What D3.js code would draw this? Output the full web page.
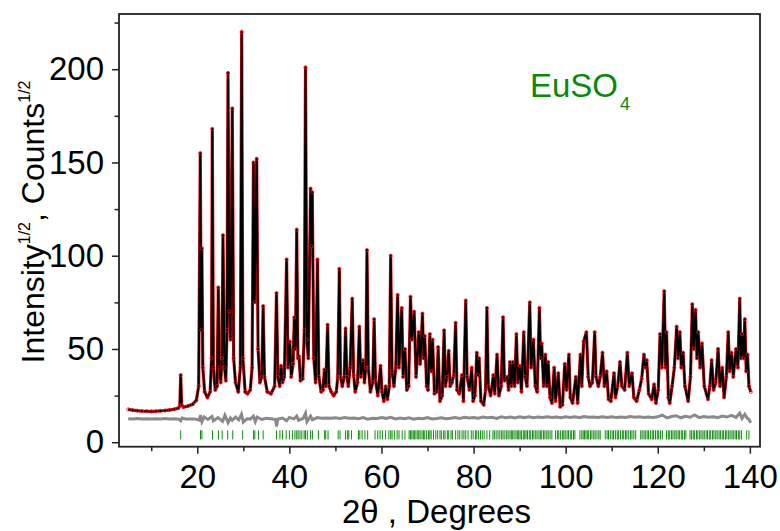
<!DOCTYPE html>
<html>
<head>
<meta charset="utf-8">
<script src="https://cdn.jsdelivr.net/npm/d3@7"></script>
<style>
  body { margin: 0; background: #fff; }
  svg text { font-family: "Liberation Sans", Arial, sans-serif; }
</style>
</head>
<body>
<svg id="chart"></svg>
<script>
// profile vertices: [2theta, sqrt(counts)]
const profile = [
  [5,17.6],[6,17.2],[7,16.9],[8,16.7],[9,16.6],[10,16.5],[11,16.6],[12,16.8],[13,17],[14,17.3],[15,17.7],
  [15.9,18.3],[16.2,19.5],[16.4,36],[16.6,20],[17,18.8],[18,19.4],[19,20.4],[19.8,22.5],[20.3,30],
  [20.65,155],[20.85,60],[21.0,104],[21.2,40],[21.6,27],[22.2,24],[22.8,27],[23.1,45],[23.26,168],
  [23.5,40],[23.9,28],[24.3,30],[24.56,83],[24.8,40],[25.1,32],[25.35,45],[25.58,111],[25.9,40],
  [26.2,33],[26.45,60],[26.67,198],[26.95,70],[27.2,55],[27.6,179],[27.9,45],[28.3,32],[28.9,27],
  [29.35,40],[29.64,220],[29.9,45],[30.4,27],[30.9,26],[31.5,28],[31.9,40],[32.2,150],[32.45,75],
  [32.9,152],[33.2,50],[33.6,32],[34.0,35],[34.3,73],[34.6,35],[35.2,27],[36,26],[36.8,30],
  [37.2,80],[37.5,35],[37.9,30],[38.2,41],[38.5,32],[38.9,35],[39.4,98],[39.7,40],[40.1,54],
  [40.4,35],[40.8,42],[41.06,67],[41.3,50],[41.6,114],[41.85,45],[42.1,46],[42.4,33],[42.9,34],
  [43.25,60],[43.5,201],[43.8,55],[44.1,45],[44.6,136],[44.8,105],[44.97,134],[45.3,45],[45.7,32],
  [46.1,98],[46.4,35],[46.9,27],[47.3,28],[47.6,39],[47.9,30],[48.3,63],[48.6,30],[49.1,27],
  [49.6,25],[50.2,27],[50.5,35],[50.85,93],[51.1,35],[51.5,30],[51.9,35],[52.2,61],[52.5,35],
  [52.8,30],[53.2,40],[53.65,77],[53.95,36],[54.3,27],[54.8,32],[55.2,62],[55.5,35],[56.0,44],
  [56.3,32],[56.6,40],[56.85,103],[57.15,40],[57.6,27],[58.1,32],[58.4,66],[58.7,33],[59.2,25],
  [59.8,41],[60.1,27],[60.5,22],[60.9,30],[61.3,23],[61.7,30],[62.0,100],[62.3,38],[62.7,30],
  [63.1,40],[63.5,79],[63.8,40],[64.4,72],[64.7,35],[65.1,50],[65.5,28],[65.9,30],[66.3,78],
  [66.6,55],[67.1,70],[67.5,35],[68.1,59],[68.4,42],[68.9,69],[69.15,45],[69.4,57],[69.8,30],
  [70.1,28],[70.5,58],[70.8,38],[71.1,55],[71.5,26],[72.0,27],[72.3,51],[72.7,22],[73.2,25],
  [73.6,60],[73.9,30],[74.2,35],[74.6,49],[74.9,30],[75.3,32],[75.7,36],[76.1,64],[76.4,28],
  [76.9,26],[77.5,36],[77.8,22],[78.3,76],[78.6,35],[79.1,28],[79.6,40],[79.9,22],[80.3,25],
  [80.7,48],[80.95,36],[81.2,45],[81.6,22],[82.2,20],[82.6,28],[82.9,72],[83.2,30],[83.7,25],
  [84.3,36],[84.6,26],[85.1,47],[85.5,25],[86.0,30],[86.4,67],[86.7,33],[87.3,35],[87.6,28],
  [87.9,43],[88.2,30],[88.5,43],[88.9,30],[89.3,58],[89.6,32],[90.0,41],[90.4,27],[90.9,59],
  [91.2,35],[91.6,30],[92.2,75],[92.5,40],[93.0,55],[93.4,30],[93.8,27],[94.3,72],[94.55,45],
  [94.8,53],[95.2,30],[95.6,47],[95.9,30],[96.2,43],[96.6,24],[97.0,21],[97.5,40],[97.8,22],
  [98.4,37],[98.8,19],[99.3,20],[99.8,42],[100.2,28],[100.7,47],[101.0,24],[101.5,21],[102.2,35],
  [102.6,21],[103.2,47],[103.5,30],[103.9,54],[104.5,59],[104.9,35],[105.3,30],[105.8,32],
  [106.3,59],[106.6,35],[107.1,30],[107.5,35],[108.0,48],[108.4,30],[108.9,38],[109.3,23],
  [109.8,22],[110.5,37],[110.8,24],[111.3,30],[111.8,43],[112.2,30],[112.8,28],[113.4,48],
  [113.8,30],[114.4,37],[114.8,24],[115.4,22],[116.0,28],[116.5,34],[117.0,47],[117.3,40],
  [117.6,44],[118.0,26],[118.7,23],[119.2,31],[119.6,21],[120.1,28],[120.5,58],[120.9,40],
  [121.4,81],[121.7,40],[121.9,59],[122.3,24],[122.6,21],[123.1,30],[123.6,40],[124.1,62],
  [124.4,45],[124.8,59],[125.1,40],[125.5,48],[125.9,30],[126.6,22],[127.1,35],[127.5,74],
  [127.8,50],[128.2,71],[128.5,45],[128.8,59],[129.2,40],[129.6,53],[130.1,30],[130.9,23],
  [131.3,30],[131.7,44],[132.1,28],[132.6,32],[133.1,50],[133.5,30],[134.0,40],[134.4,24],
  [134.9,35],[135.3,59],[135.6,38],[136.0,48],[136.4,35],[137.0,50],[137.4,40],[137.8,77],
  [138.05,45],[138.3,58],[138.6,45],[138.9,66],[139.2,38],[139.5,47],[139.8,30],[140.2,27]
];

// observed - calculated, offset as plotted
const difference = [
  [5,12.6],[6,12.4],[7,12.7],[8,12.5],[9,12.6],[10,12.4],[11,12.6],[12,12.5],[13,12.7],[14,12.5],
  [15,12.6],[16,12.4],[16.4,11.5],[16.7,13],[17.5,12.5],[18.5,12.4],[19.5,12.5],[20.4,11.8],
  [20.7,14.5],[21,11],[21.5,13.5],[22.3,12.2],[23.2,13.8],[23.5,11.5],[24.5,13.2],[25.5,11.2],
  [26,14.5],[26.7,10.5],[27.2,13],[27.6,11.8],[28.3,13.5],[29,12],[29.6,15],[30,10.8],[30.8,12.6],
  [31.5,12.4],[32.2,14],[32.6,11],[33,13.5],[34,12.2],[35,12.8],[36,12.6],[37,12.2],[37.2,8.5],
  [37.5,12.5],[38.5,13],[39.4,11.5],[40,13.3],[41,12.5],[41.6,14],[42,11.8],[43,12.8],[43.5,15.5],
  [43.8,11],[44.6,14],[45,12],[46,13.2],[47,12.8],[48,13],[49,12.9],[50,13.1],[51,12.7],[52,13.2],
  [53,12.8],[54,13],[55,12.6],[56,13.2],[57,12.4],[58,12.9],[59,12.7],[60,13.2],[61,12.8],[62,13.4],
  [63,12.5],[64,13],[65,12.6],[66,13.1],[67,12.4],[68,12.9],[69,12.6],[70,13.2],[71,12.5],[72,12.7],
  [73,13.1],[74,12.6],[75,12.9],[76,13.3],[77,12.8],[78,13.4],[79,13],[80,13.3],[81,12.9],[82,13.5],
  [83,13.1],[84,13.4],[85,12.8],[86,13.6],[87,13.1],[88,13.5],[89,13],[90,13.6],[91,13.2],[92,13.7],
  [93,13.1],[94,13.5],[95,13.2],[96,13.6],[97,13.3],[98,13.5],[99,13.1],[100,13.6],[101,13.3],
  [102,13.7],[103,13.2],[104,13.8],[105,13.4],[106,13.5],[107,13.2],[108,13.6],[109,13.3],[110,13.7],
  [111,13.2],[112,13.5],[113,13.3],[114,13.8],[115,13.4],[116,13.6],[117,13.2],[118,13.5],[119,13.3],
  [120,13.6],[121,14.5],[122,13],[123,13.8],[124,14.2],[125,13.1],[126,13.9],[127,13.4],[128,14.6],
  [129,13.2],[130,13.8],[131,13.4],[132,13.6],[133,13.2],[134,14],[135,13.5],[136,14.4],[137,13.3],
  [137.8,15.6],[138.3,12.8],[138.9,15],[139.4,13],[139.8,12.2],[140.2,10.5]
];

// Bragg reflection positions
const reflections = [
  16.4,20.7,21.0,23.3,24.6,25.4,26.6,27.7,29.85,32.2,32.5,33.3,34.3,37.2,37.95,38.5,39.3,40.0,40.7,
  41.2,41.6,41.9,42.3,42.7,43.2,43.5,43.9,44.6,45.0,46.3,47.65,47.9,48.4,50.6,51.0,52.2,52.65,52.9,
  53.5,55.0,55.3,55.8,56.4,57.0,58.6,59.2,59.7,60.2,60.9,61.6,62.0,62.3,62.8,63.4,63.8,64.5,65.1,
  66.0,66.3,66.6,66.9,67.2,67.5,67.9,68.1,68.4,68.8,69.1,69.4,69.8,70.2,70.5,70.8,71.3,71.8,72.2,
  72.7,73.0,73.5,73.8,74.3,74.6,75.1,75.4,76.1,76.6,77.0,77.5,77.9,78.3,78.8,79.5,79.9,80.4,80.7,
  81.1,81.5,81.9,82.3,82.9,83.5,84.2,84.5,84.9,85.3,85.7,86.1,86.4,86.8,87.2,87.5,87.9,88.2,88.5,
  88.8,89.2,89.5,89.8,90.1,90.4,90.8,91.1,91.4,91.7,92.1,92.4,92.8,93.1,93.5,93.8,94.2,94.5,94.8,
  95.2,95.5,95.9,96.2,96.6,97.0,97.8,98.2,98.5,98.9,99.3,99.6,99.9,100.3,100.6,101.0,101.3,101.7,
  102.0,103.1,103.5,103.8,104.1,104.4,104.7,105.0,105.4,105.7,106.1,106.4,106.8,107.2,107.5,108.6,
  109.0,109.3,109.7,110.1,110.4,110.8,111.2,111.5,111.9,112.3,112.6,113.0,113.3,113.7,114.1,114.4,
  114.8,115.2,116.3,116.6,117.0,117.3,117.7,118.0,118.4,118.8,119.1,119.5,119.9,120.2,120.6,121.0,
  121.9,122.3,122.6,123.0,123.3,123.7,124.0,124.4,124.7,125.1,125.4,125.8,126.1,127.0,127.3,127.7,
  128.0,128.4,128.7,129.1,129.4,129.8,130.1,130.5,130.8,131.2,131.5,131.9,132.2,132.6,132.9,133.3,
  133.6,134.0,134.3,134.7,135.0,135.4,135.7,136.1,136.4,136.8,137.1,137.5,137.8,138.2,139.3,139.8
];

const xTicks = [20, 40, 60, 80, 100, 120, 140];
const xMinorTicks = [10, 30, 50, 70, 90, 110, 130];
const yTicks = [0, 50, 100, 150, 200];
const yMinorTicks = [25, 75, 125, 175, 225];
const phaseName = 'EuSO';
const phaseIndex = '4';

const width = 780;
const height = 531;
const margin = { top: 14, right: 20, bottom: 84.3, left: 119 };
const chartWidth = width - margin.left - margin.right;
const chartHeight = height - margin.top - margin.bottom;

const svg = d3.select('#chart')
    .attr('width', width)
    .attr('height', height);

svg.append('rect')
    .attr('width', width)
    .attr('height', height)
    .attr('fill', '#fff');

const x = d3.scaleLinear().domain([3, 142.2]).range([0, chartWidth]);
const y = d3.scaleLinear().domain([-2.4, 229.6]).range([chartHeight, 0]);

const g = svg.append('g')
    .attr('transform', `translate(${margin.left},${margin.top})`);

g.append('clipPath').attr('id', 'clip')
  .append('rect')
    .attr('width', chartWidth)
    .attr('height', chartHeight);

const plot = g.append('g').attr('clip-path', 'url(#clip)');

const line = d3.line()
    .x(d => x(d[0]))
    .y(d => y(d[1]));

// difference curve
plot.append('path')
    .datum(difference)
    .attr('fill', 'none')
    .attr('stroke', '#8a8a8a')
    .attr('stroke-width', 3)
    .attr('d', line);

// reflection markers
plot.selectAll('.refl')
    .data(reflections)
  .enter().append('line')
    .attr('class', 'refl')
    .attr('x1', d => x(d))
    .attr('x2', d => x(d))
    .attr('y1', y(1.5))
    .attr('y2', y(6.4))
    .attr('stroke', '#118a11')
    .attr('stroke-width', 1);

// observed (red) and calculated (black)
plot.append('path')
    .datum(profile)
    .attr('fill', 'none')
    .attr('stroke', '#e8141a')
    .attr('stroke-width', 3.2)
    .attr('stroke-linejoin', 'round')
    .attr('d', line);

plot.append('path')
    .datum(profile)
    .attr('fill', 'none')
    .attr('stroke', '#000')
    .attr('stroke-width', 2)
    .attr('stroke-linejoin', 'round')
    .attr('d', line);

plot.selectAll('.obs')
    .data(profile)
  .enter().append('circle')
    .attr('class', 'obs')
    .attr('cx', d => x(d[0]))
    .attr('cy', d => y(d[1]))
    .attr('r', 1.6)
    .attr('fill', 'none')
    .attr('stroke', '#e8141a')
    .attr('stroke-width', 0.8);

// axes
const tickFont = 33;

function styleAxis(sel) {
    sel.select('.domain').remove();
    sel.selectAll('line').attr('stroke', '#222').attr('stroke-width', 1.5);
    sel.selectAll('text')
        .attr('fill', '#000')
        .style('font-size', tickFont + 'px')
        .style('font-family', '"Liberation Sans", Arial, sans-serif');
}

g.append('g')
    .attr('transform', `translate(0,${chartHeight})`)
    .call(d3.axisBottom(x).tickValues(xTicks).tickSize(7).tickPadding(11))
    .call(styleAxis);

g.append('g')
    .attr('transform', `translate(0,${chartHeight})`)
    .call(d3.axisBottom(x).tickValues(xMinorTicks).tickSize(4.5).tickFormat(''))
    .call(styleAxis);

g.append('g')
    .call(d3.axisLeft(y).tickValues(yTicks).tickSize(7).tickPadding(8))
    .call(styleAxis);

g.append('g')
    .call(d3.axisLeft(y).tickValues(yMinorTicks).tickSize(4.5).tickFormat(''))
    .call(styleAxis);

g.append('rect')
    .attr('width', chartWidth)
    .attr('height', chartHeight)
    .attr('fill', 'none')
    .attr('stroke', '#222')
    .attr('stroke-width', 1.8);

// axis titles
svg.append('text')
    .attr('x', 342)
    .attr('y', 523)
    .style('font-size', '33px')
    .text('2\u03B8 , Degrees');

const yTitle = svg.append('text')
    .attr('transform', 'translate(44,222) rotate(-90)')
    .attr('text-anchor', 'middle')
    .style('font-size', '32px');
yTitle.append('tspan').text('Intensity');
yTitle.append('tspan').attr('dy', -14).style('font-size', '16px').text('1/2');
yTitle.append('tspan').attr('dy', 14).text(', Counts');
yTitle.append('tspan').attr('dy', -14).style('font-size', '16px').text('1/2');

// phase label
const phase = svg.append('text')
    .attr('x', 530)
    .attr('y', 97)
    .attr('fill', '#0a880a')
    .style('font-size', '33px');
phase.append('tspan').text(phaseName);
phase.append('tspan').attr('dy', 13).attr('dx', 2).style('font-size', '18px').text(phaseIndex);
</script>
</body>
</html>
